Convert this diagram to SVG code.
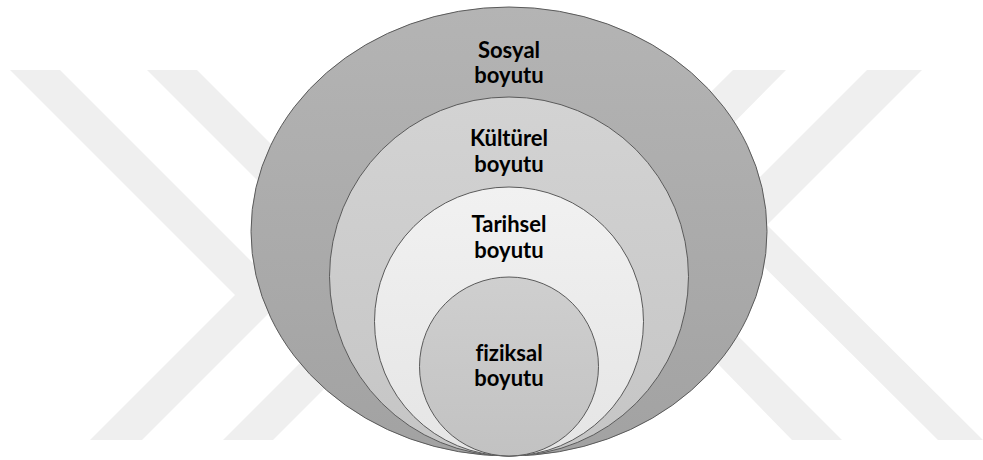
<svg xmlns="http://www.w3.org/2000/svg" width="983" height="460" viewBox="0 0 983 460">
<style>
.wm{fill:#efefef;stroke:none}
.ring{stroke:#5a5a5a;stroke-width:1}
.lbl{font-family:Lato,"Open Sans","Liberation Sans",sans-serif;font-weight:bold;font-size:22px;fill:#000;text-anchor:middle;font-variant-ligatures:none}
</style>
<defs>
<linearGradient id="gS" x1="0" y1="0" x2="0" y2="1"><stop offset="0" stop-color="#b4b4b4"/><stop offset="1" stop-color="#a2a2a2"/></linearGradient>
<linearGradient id="gK" x1="0" y1="0" x2="0" y2="1"><stop offset="0" stop-color="#d3d3d3"/><stop offset="1" stop-color="#c5c5c5"/></linearGradient>
<linearGradient id="gT" x1="0" y1="0" x2="0" y2="1"><stop offset="0" stop-color="#f1f1f1"/><stop offset="1" stop-color="#e5e5e5"/></linearGradient>
<linearGradient id="gF" x1="0" y1="0" x2="0" y2="1"><stop offset="0" stop-color="#cfcfcf"/><stop offset="1" stop-color="#c2c2c2"/></linearGradient>
</defs>
<rect width="983" height="460" fill="#ffffff"/>
<g id="watermark">
<polygon class="wm" points="10,70 60,70 286,296 142,440 90,440 235,295"/>
<polygon class="wm" points="147,70 197,70 420,293 273,440 223,440 370,293"/>
<polygon class="wm" points="733,70 786,70 630,228 842,440 792,440 580,222"/>
<polygon class="wm" points="867,70 922,70 767,225 983,440 938,440 717,220"/>
</g>
<g id="sosyal">
<ellipse class="ring" cx="509" cy="231.5" rx="258" ry="224.5" fill="url(#gS)"/>
<text class="lbl" x="509" y="57.5">Sosyal</text>
<text class="lbl" x="509" y="83">boyutu</text>
</g>
<g id="kulturel">
<circle class="ring" cx="509" cy="276.5" r="179.5" fill="url(#gK)"/>
<text class="lbl" x="509" y="146">Kültürel</text>
<text class="lbl" x="509" y="172">boyutu</text>
</g>
<g id="tarihsel">
<circle class="ring" cx="509" cy="321.5" r="134.5" fill="url(#gT)"/>
<text class="lbl" x="509" y="232">Tarihsel</text>
<text class="lbl" x="509" y="258">boyutu</text>
</g>
<g id="fiziksal">
<circle class="ring" cx="509" cy="366.5" r="89.5" fill="url(#gF)"/>
<text class="lbl" x="509" y="361">fiziksal</text>
<text class="lbl" x="509" y="386">boyutu</text>
</g>
<g id="connectors"/>
</svg>
